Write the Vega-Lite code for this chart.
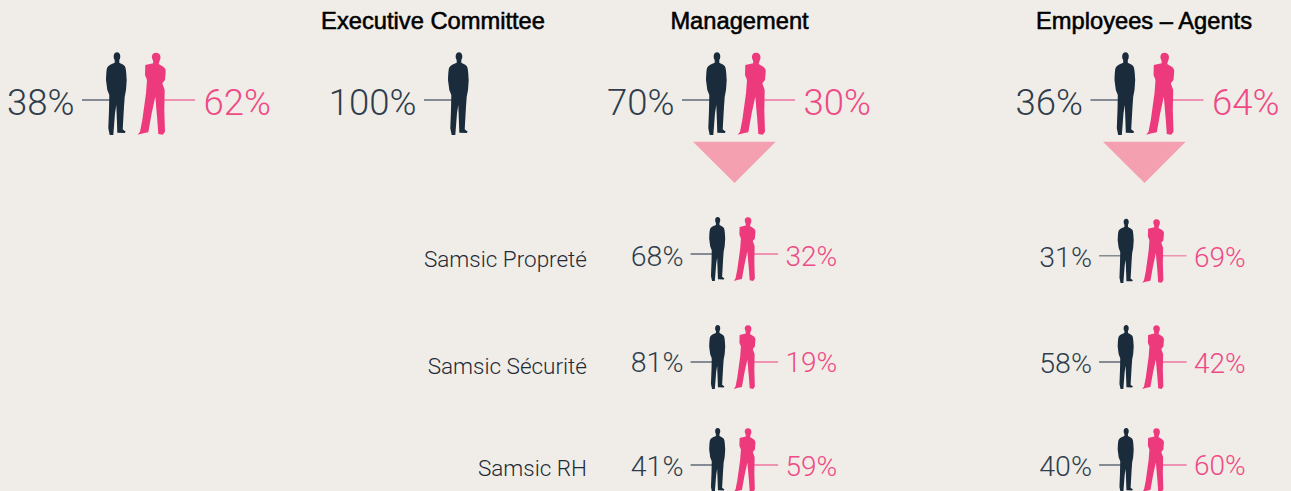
{"$schema":"https://vega.github.io/schema/vega-lite/v6.json","width":1291,"height":491,"autosize":{"type":"fit","contains":"padding"},"padding":0,"background":"#f0ede8","config":{"view":{"stroke":null}},
"datasets":{"people":[
{"group":"All staff","col":1,"row":0,"tier":"top","gender":"Men","label":"38%"},
{"group":"All staff","col":1,"row":0,"tier":"top","gender":"Women","label":"62%"},
{"group":"Executive Committee","col":2,"row":0,"tier":"top","gender":"Men","label":"100%"},
{"group":"Management","col":3,"row":0,"tier":"top","gender":"Men","label":"70%"},
{"group":"Management","col":3,"row":0,"tier":"top","gender":"Women","label":"30%"},
{"group":"Employees – Agents","col":4,"row":0,"tier":"top","gender":"Men","label":"36%"},
{"group":"Employees – Agents","col":4,"row":0,"tier":"top","gender":"Women","label":"64%"},
{"group":"Management","col":3,"row":1,"tier":"sub","gender":"Men","label":"68%"},
{"group":"Management","col":3,"row":1,"tier":"sub","gender":"Women","label":"32%"},
{"group":"Management","col":3,"row":2,"tier":"sub","gender":"Men","label":"81%"},
{"group":"Management","col":3,"row":2,"tier":"sub","gender":"Women","label":"19%"},
{"group":"Management","col":3,"row":3,"tier":"sub","gender":"Men","label":"41%"},
{"group":"Management","col":3,"row":3,"tier":"sub","gender":"Women","label":"59%"},
{"group":"Employees – Agents","col":4,"row":1,"tier":"sub","gender":"Men","label":"31%"},
{"group":"Employees – Agents","col":4,"row":1,"tier":"sub","gender":"Women","label":"69%"},
{"group":"Employees – Agents","col":4,"row":2,"tier":"sub","gender":"Men","label":"58%"},
{"group":"Employees – Agents","col":4,"row":2,"tier":"sub","gender":"Women","label":"42%"},
{"group":"Employees – Agents","col":4,"row":3,"tier":"sub","gender":"Men","label":"40%"},
{"group":"Employees – Agents","col":4,"row":3,"tier":"sub","gender":"Women","label":"60%"}
],
"titles":[{"col":2,"row":0,"label":"Executive Committee"},{"col":3,"row":0,"label":"Management"},{"col":4,"row":0,"label":"Employees – Agents"}],
"arrows":[{"col":3,"row":0},{"col":4,"row":0}],
"divisions":[{"col":3,"row":1,"label":"Samsic Propreté"},{"col":3,"row":2,"label":"Samsic Sécurité"},{"col":3,"row":3,"label":"Samsic RH"}]},
"encoding":{
"x":{"field":"col","type":"quantitative","axis":null,"scale":{"domain":[1,2,3,4],"range":[136.5,478.5,736.5,1145]}},
"y":{"field":"row","type":"quantitative","axis":null,"scale":{"domain":[0,1,2,3],"range":[100,254,362,465]}}
},
"layer":[
{"data":{"name":"arrows"},"mark":{"type":"point","filled":true,"opacity":1,"size":4,"fill":"#f5a0b0","stroke":null,"shape":"M-43.5 41.7 H39.2 L-2 83 Z","xOffset":{"expr":"datum.col===4?1.5:0"}}},
{"data":{"name":"people"},"transform":[{"filter":"datum.tier==='top'"}],"mark":{"type":"point","filled":true,"opacity":1,"size":4,"stroke":null},
"encoding":{"shape":{"field":"gender","type":"nominal","legend":null,"scale":{"domain":["Men","Women"],"range":["M-21.8 -37.3L-21.8 -40C-23.4 -42 -23.4 -47.7 -19.5 -47.7C-15.6 -47.7 -15.6 -42 -17.2 -40L-17.2 -37.3C-14.5 -36 -12.3 -35 -11.5 -33.5C-10.5 -31 -10.2 -28 -9.8 -20L-10.5 -10L-11.8 -3.3L-12.5 6.7L-13.8 29.3L-10.8 31.7L-11.8 33L-19.2 32.7L-19.5 23.3L-20.2 5L-21.5 13.3L-22.8 30L-23.2 35L-26.8 35L-28.2 28.3L-27.5 10L-27.2 -5L-29.2 -10L-30.5 -20C-30.2 -27 -30 -31 -29.2 -32.5C-28 -35 -25 -36 -21.8 -37.3ZM-54.5 -0.5H-27V0.5H-54.5Z","M16.8 -36.7L16.4 -40C14.8 -42 14.8 -47.3 19.5 -47.3C24.5 -47.3 24.8 -42 23 -39L22.2 -36L26.8 -33.3C28.5 -32 29.5 -30 29.2 -28.3L28.5 -20L25.8 -16.7L28.2 -10L27.8 10L28.5 31.7L26.2 34.7L21.8 34L20.8 20L18.8 -3.3L15.2 13.3L11.8 32.3L6.8 33.3L1.2 34.7L3.5 31.7L5.8 20L9.5 -6.7L10.5 -20L8.5 -25L8.8 -35ZM26 -0.5H58.5V0.5H26Z"]}},"color":{"field":"gender","type":"nominal","legend":null,"scale":{"domain":["Men","Women"],"range":["#1a2b3c","#ec3a7c"]}}}},
{"data":{"name":"people"},"transform":[{"filter":"datum.tier==='sub'"}],"mark":{"type":"point","filled":true,"opacity":1,"size":2.4,"stroke":null,"xOffset":-3.7,"yOffset":{"expr":"datum.col===4&&datum.row===1?1.8:0"}},
"encoding":{"shape":{"field":"gender","type":"nominal","legend":null,"scale":{"domain":["Men","Women"]}},"color":{"field":"gender","type":"nominal","legend":null}}},
{"data":{"name":"people"},"transform":[{"filter":"datum.tier==='top' && datum.gender==='Men'"}],"mark":{"type":"text","align":"right","dx":-62,"dy":15,"baseline":"alphabetic","font":"Roboto","fontWeight":300,"fontSize":36.5,"color":"#2f3d4d"},"encoding":{"text":{"field":"label"}}},
{"data":{"name":"people"},"transform":[{"filter":"datum.tier==='top' && datum.gender==='Women'"}],"mark":{"type":"text","align":"left","dx":67,"dy":15,"baseline":"alphabetic","font":"Roboto","fontWeight":300,"fontSize":36.5,"color":"#ee4a85"},"encoding":{"text":{"field":"label"}}},
{"data":{"name":"people"},"transform":[{"filter":"datum.tier==='sub' && datum.gender==='Men'"}],"mark":{"type":"text","align":"right","dx":-53,"dy":{"expr":"datum.col===3?(datum.row===1?11.8:datum.row===2?9.8:10.8):(datum.row===1?12.7:11)"},"baseline":"alphabetic","font":"Roboto","fontWeight":300,"fontSize":28.5,"color":"#2f3d4d"},"encoding":{"text":{"field":"label"}}},
{"data":{"name":"people"},"transform":[{"filter":"datum.tier==='sub' && datum.gender==='Women'"}],"mark":{"type":"text","align":"left","dx":49,"dy":{"expr":"datum.col===3?(datum.row===1?11.5:datum.row===2?9.5:11):(datum.row===1?12.7:datum.row===2?11:10)"},"baseline":"alphabetic","font":"Roboto","fontWeight":300,"fontSize":28,"color":"#ee4a85"},"encoding":{"text":{"field":"label"}}},
{"data":{"name":"titles"},"mark":{"type":"text","align":"center","baseline":"alphabetic","dy":-71,"dx":{"expr":"datum.col===2?-45.5:datum.col===3?3:-1"},"font":"Liberation Sans","fontSize":23.7,"color":"#000000","stroke":"#000000","strokeWidth":0.55},"encoding":{"text":{"field":"label"}}},
{"data":{"name":"divisions"},"mark":{"type":"text","align":"right","baseline":"alphabetic","dx":-149.5,"dy":{"expr":"datum.row===1?13:datum.row===2?12:10.7"},"font":"Roboto","fontWeight":300,"fontSize":22.5,"color":"#1f2a36"},"encoding":{"text":{"field":"label"}}}
]}
